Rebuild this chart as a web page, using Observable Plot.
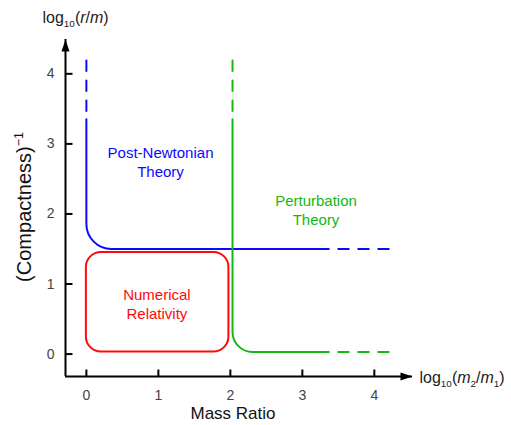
<!DOCTYPE html>
<html>
<head>
<meta charset="utf-8">
<script src="https://cdn.jsdelivr.net/npm/d3@7"></script>
<script src="https://cdn.jsdelivr.net/npm/@observablehq/plot@0.6"></script>
<style>
  body { margin: 0; background: #fff; }
</style>
</head>
<body>
<div id="chart"></div>
<script>
// axis extents and ticks
const xDomain = [-0.29, 4.53];
const yDomain = [-0.32, 4.49];
const xTicks = [0, 1, 2, 3, 4];
const yTicks = [0, 1, 2, 3, 4];

// post-newtonian boundary (blue)
const pnX = [0, 0, 3.36];
const pnY = [3.35, 1.5, 1.5];
const pnDashUpY = [4.19, 3.35];
const pnDashRightX = [4.2, 3.36];

// perturbation boundary (green)
const ptX = [2.03, 2.03, 3.36];
const ptY = [3.35, 0.03, 0.03];
const ptDashUpY = [4.19, 3.35];
const ptDashRightX = [4.2, 3.36];

// numerical relativity box (red)
const nrX = [0, 1.98];
const nrY = [0.03, 1.45];

// region labels
const regionText = ["Post-Newtonian\nTheory", "Perturbation\nTheory", "Numerical\nRelativity"];
const regionX = [1.03, 3.19, 0.98];
const regionY = [2.75, 2.07, 0.73];

const BLUE = "#0a0aff", GREEN = "#14b814", RED = "#ff0a0a";

// polyline with rounded corners (radius in px)
function rounded(radius) {
  return (context) => {
    let pts;
    return {
      areaStart() {}, areaEnd() {},
      lineStart() { pts = []; },
      point(x, y) { pts.push([+x, +y]); },
      lineEnd() {
        if (!pts.length) return;
        context.moveTo(pts[0][0], pts[0][1]);
        for (let i = 1; i < pts.length - 1; i++) {
          context.arcTo(pts[i][0], pts[i][1], pts[i + 1][0], pts[i + 1][1], radius);
        }
        const last = pts[pts.length - 1];
        context.lineTo(last[0], last[1]);
      }
    };
  };
}

const tickUp = {draw(c) { c.moveTo(0, 0); c.lineTo(0, -7); }};
const tickRight = {draw(c) { c.moveTo(0, 0); c.lineTo(7, 0); }};
const arrowUp = {draw(c) { c.moveTo(0, 0); c.lineTo(-4, 12); c.lineTo(4, 12); c.closePath(); }};
const arrowRight = {draw(c) { c.moveTo(0, 0); c.lineTo(-12, -4); c.lineTo(-12, 4); c.closePath(); }};

const pts = (xs, ys) => xs.map((x, i) => [x, ys[i]]);
const regions = regionText.map((t, i) => ({t, x: regionX[i], y: regionY[i]}));
const regionColor = {"Post-Newtonian\nTheory": BLUE, "Perturbation\nTheory": GREEN, "Numerical\nRelativity": RED};
const dash = "10.5,9.5";

const chart = Plot.plot({
  width: 511,
  height: 425,
  marginLeft: 65,
  marginRight: 99,
  marginTop: 39,
  marginBottom: 49,
  style: {fontFamily: "'Liberation Sans', Arial, sans-serif", fontSize: "14px", background: "#fff"},
  x: {domain: xDomain},
  y: {domain: yDomain},
  marks: [
    // axes
    Plot.ruleX([xDomain[0]], {y1: yDomain[0], y2: yDomain[1], stroke: "black", strokeWidth: 2}),
    Plot.ruleY([yDomain[0]], {x1: xDomain[0], x2: xDomain[1], stroke: "black", strokeWidth: 2}),
    Plot.dot([0], {x: () => xDomain[0], y: () => yDomain[1], symbol: arrowUp, fill: "black", stroke: "none"}),
    Plot.dot([0], {x: () => xDomain[1], y: () => yDomain[0], symbol: arrowRight, fill: "black", stroke: "none"}),
    Plot.dot(xTicks, {x: d => d, y: () => yDomain[0], symbol: tickUp, stroke: "black", strokeWidth: 2, fill: "none"}),
    Plot.dot(yTicks, {x: () => xDomain[0], y: d => d, symbol: tickRight, stroke: "black", strokeWidth: 2, fill: "none"}),
    Plot.axisX({ticks: xTicks, tickFormat: d => String(d), tickSize: 0, tickPadding: 14, label: null, fontSize: 14, color: "#444"}),
    Plot.axisY({ticks: yTicks, tickFormat: d => String(d), tickSize: 0, tickPadding: 11, label: null, fontSize: 14, color: "#444"}),

    // numerical relativity
    Plot.rect([0], {x1: () => nrX[0], x2: () => nrX[1], y1: () => nrY[0], y2: () => nrY[1],
      rx: 15, fill: "none", stroke: RED, strokeWidth: 2}),

    // post-newtonian
    Plot.line(pts(pnX, pnY), {stroke: BLUE, strokeWidth: 2, curve: rounded(25)}),
    Plot.line(pts([0, 0], pnDashUpY), {stroke: BLUE, strokeWidth: 2, strokeDasharray: dash}),
    Plot.line(pts(pnDashRightX, [1.5, 1.5]), {stroke: BLUE, strokeWidth: 2, strokeDasharray: dash}),

    // perturbation
    Plot.line(pts(ptX, ptY), {stroke: GREEN, strokeWidth: 2, curve: rounded(20)}),
    Plot.line(pts([2.03, 2.03], ptDashUpY), {stroke: GREEN, strokeWidth: 2, strokeDasharray: dash}),
    Plot.line(pts(ptDashRightX, [0.03, 0.03]), {stroke: GREEN, strokeWidth: 2, strokeDasharray: dash}),

    Plot.text(regions, {x: "x", y: "y", text: "t", fill: d => regionColor[d.t], fontSize: 15, lineHeight: 1.27}),

    // axis titles
    Plot.text(["log10(r/m)"], {frameAnchor: "top-left", text: d => d, textAnchor: "start", lineAnchor: "middle",
      dx: -23, dy: -22, fontSize: 16, fill: "#222"}),
    Plot.text(["log10(m2/m1)"], {frameAnchor: "bottom-right", text: d => d, textAnchor: "start", lineAnchor: "middle",
      dx: 7, dy: 1, fontSize: 16, fill: "#222"}),
    Plot.text(["Mass Ratio"], {frameAnchor: "bottom", text: d => d, textAnchor: "middle", lineAnchor: "middle",
      dx: -6, dy: 37, fontSize: 17, fill: "#111"}),
    Plot.text(["(Compactness)"], {frameAnchor: "left", text: d => d, rotate: -90, textAnchor: "middle", lineAnchor: "middle",
      dx: -41, dy: -1, fontSize: 20, fill: "#111"})
  ]
});

// sub/superscripts and italics
function rich(svg, plain, parts) {
  const t = d3.select(svg).selectAll("text").filter(function() { return this.textContent === plain; });
  t.text(null);
  let shift = 0;
  for (const [s, k] of parts) {
    const target = k === "sub" ? 4 : k === "sup" ? -8 : 0;
    const ts = t.append("tspan").text(s);
    if (target !== shift) ts.attr("dy", target - shift);
    shift = target;
    if (k === "sub" || k === "sup") ts.attr("font-size", "0.62em");
    if (k === "i") ts.attr("font-style", "italic");
  }
}
rich(chart, "log10(r/m)", [["log"], ["10", "sub"], ["("], ["r", "i"], ["/"], ["m", "i"], [")"]]);
rich(chart, "log10(m2/m1)", [["log"], ["10", "sub"], ["("], ["m", "i"], ["2", "sub"], ["/"], ["m", "i"], ["1", "sub"], [")"]]);
rich(chart, "(Compactness)", [["(Compactness)"], ["\u22121", "sup"]]);

d3.select("#chart").append(() => chart);
</script>
</body>
</html>
